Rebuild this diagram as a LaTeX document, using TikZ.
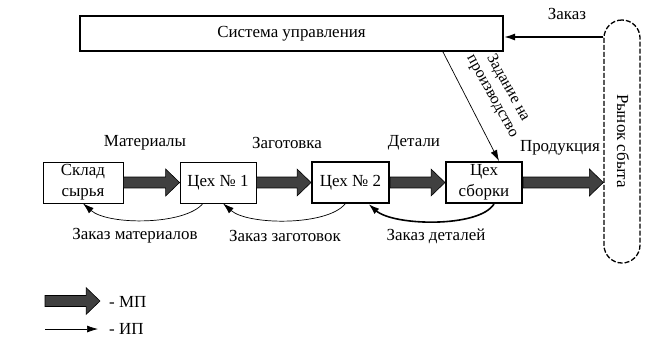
\documentclass[tikz,border=0pt]{standalone}
\usepackage{fontspec}
\setmainfont{Liberation Serif}
\usetikzlibrary{arrows.meta,calc}
\definecolor{mpgray}{HTML}{404040}
\tikzset{
  box/.style={draw=black,line width=0.8bp,minimum height=41bp,inner sep=0pt,align=center,font=\fontsize{17}{21}\selectfont},
  thickbox/.style={box,line width=2bp},
  lbl/.style={inner sep=0pt,font=\fontsize{17}{19}\selectfont},
  info/.style={draw=black,line width=0.7bp,-{Latex[length=11bp,width=7bp]}},
  infothick/.style={draw=black,line width=1.6bp,-{Latex[length=11bp,width=7bp]}},
  fat/.style={draw=black,line width=0.6bp,fill=mpgray,line join=miter},
}
\newcommand\fatarrow[2]{%
  \path[fat] let \p1=(#1), \p2=(#2) in
    (\x1,\y1-5.5) -- (\x2-14,\y1-5.5) -- (\x2-14,\y1-13.5) -- (\x2,\y1)
    -- (\x2-14,\y1+13.5) -- (\x2-14,\y1+5.5) -- (\x1,\y1+5.5) -- cycle;}
\begin{document}
\begin{tikzpicture}[x=1bp,y=-1bp]
\useasboundingbox (0,0) rectangle (648,338);
% nodes
\node[thickbox,minimum width=423bp,minimum height=35bp] (sys) at (291.5,33.5) {Система управления};
\node[box,minimum width=80bp] (sklad) at (83,182.5) {Склад\\сырья};
\node[box,minimum width=76bp] (c1) at (218,182.5) {Цех № 1};
\node[thickbox,minimum width=77bp] (c2) at (350.5,182.5) {Цех № 2};
\node[thickbox,minimum width=76bp] (asm) at (484,182.5) {Цех\\сборки};
\node[draw=black,line width=1.3bp,dash pattern=on 5bp off 2bp,rounded corners=18bp,
      minimum width=36bp,minimum height=243bp,inner sep=0pt] (market) at (622,141.5) {};
\node[lbl,rotate=-90] (markettext) at (623,141) {Рынок сбыта};
% material flows
\fatarrow{sklad.east}{c1.west}
\fatarrow{c1.east}{c2.west}
\fatarrow{c2.east}{asm.west}
\fatarrow{asm.east}{market.west}
% information flows
\draw[info] ([xshift=-15bp]c1.south) .. controls +(-18,22) and +(25,22) .. (sklad.south);
\draw[info] ([xshift=-5.5bp]c2.south) .. controls +(-18,22) and +(25,22) .. ([xshift=5bp]c1.south);
\draw[infothick] ([xshift=10bp]asm.south) .. controls +(-15,24) and +(25,22) .. ([xshift=18bp]c2.south);
\draw[info] ([xshift=-61bp]sys.south east) -- ([xshift=15bp]asm.north);
\coordinate (zk) at ([yshift=-3.5bp]sys.east);
\draw[infothick] (zk -| market.west) -- (zk);
% labels
\node[lbl] (lmat) at (145,143) {Материалы};
\node[lbl] (lzag) at (287,143) {Заготовка};
\node[lbl] (ldet) at (414,143) {Детали};
\node[lbl] (lprod) at (560,148) {Продукция};
\node[lbl] (lzm) at (135,236) {Заказ материалов};
\node[lbl] (lzz) at (285,236) {Заказ заготовок};
\node[lbl] (lzd) at (436,236) {Заказ деталей};
\node[lbl] (lzk) at (567,14) {Заказ};
\node[lbl,rotate=-61,align=center,font=\fontsize{16}{18}\selectfont] (lzad) at (500,92) {Задание на\\производство};
% legend
\coordinate (l1a) at (45,301);
\coordinate (l1b) at (100,301);
\fatarrow{l1a}{l1b}
\node[lbl,anchor=west] (lmp) at (109,302) {- МП};
\coordinate (l2a) at (45,329);
\coordinate (l2b) at (98,329);
\draw[info] (l2a) -- (l2b);
\node[lbl,anchor=west] (lip) at (109,329) {- ИП};
\end{tikzpicture}
\end{document}
